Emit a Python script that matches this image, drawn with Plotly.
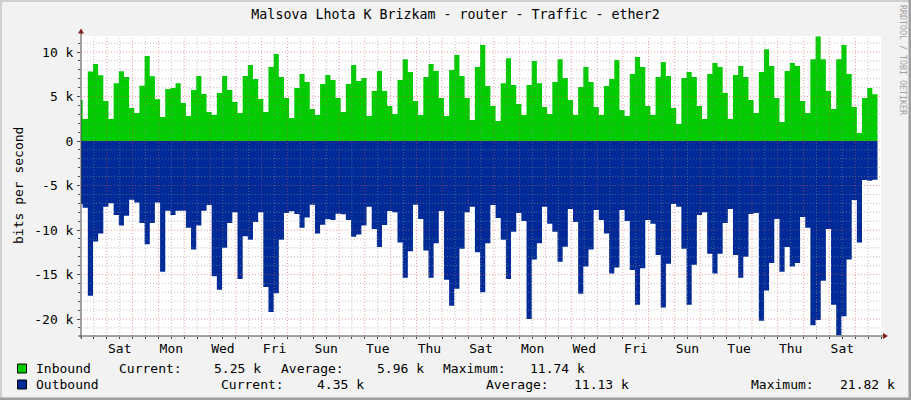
import pandas as pd
import plotly.graph_objects as go

# TRAFFIC VALUES (bits per second, one value per 4.8 h sample)
inbound = [4600, 2470, 7800, 8650, 7400, 4500, 2470, 6500, 7830, 7200,
           3700, 3150, 6200, 9550, 7270, 4700, 2700, 5840, 5950, 6500,
           4270, 2800, 5730, 7300, 5280, 3260, 2920, 5400, 7300, 5730,
           4380, 3150, 7300, 8540, 6970, 4720, 3260, 8310, 9780, 7190,
           4830, 2580, 5960, 7530, 6630, 3600, 2920, 6400, 7420, 6850,
           4830, 3260, 6400, 8540, 6740, 7080, 2800, 5620, 7870, 5620,
           3930, 3030, 6850, 9200, 7750, 4500, 2920, 7190, 8650, 7870,
           4830, 2800, 7980, 9660, 7300, 4830, 2360, 8310, 10800, 6180,
           3930, 2250, 6500, 9300, 6300, 4160, 2920, 6300, 9000, 6500,
           3820, 3030, 6630, 9200, 7080, 4600, 2920, 6070, 8310, 6630,
           3820, 2920, 6180, 6970, 9100, 3480, 2800, 7530, 9440, 8310,
           3930, 2920, 7190, 8880, 7300, 3700, 1910, 7080, 7750, 7190,
           3930, 2470, 7530, 8760, 8310, 5390, 2470, 7420, 8430, 7190,
           4600, 3150, 7750, 10300, 8430, 4830, 2130, 7870, 8760, 8430,
           4500, 3150, 9200, 11740, 9200, 5620, 3600, 9200, 10800, 7530,
           3820, 900, 4830, 5960, 5250]

outbound = [7080, 7500, 17400, 11300, 10400, 7380, 7000, 8300, 9500, 8400,
            6600, 6900, 9200, 11600, 9200, 6900, 14700, 7830, 8300, 7830,
            7830, 9740, 12200, 9500, 7830, 7190, 15200, 16700, 12000, 9200,
            8000, 15500, 10700, 11100, 9100, 8000, 16400, 19200, 17100, 11100,
            8100, 7900, 8200, 9740, 8600, 7150, 10400, 9400, 8800, 8880,
            8160, 8240, 8880, 10750, 10500, 9500, 7400, 9900, 11900, 9440,
            7870, 8000, 11400, 15360, 12400, 7150, 8760, 12300, 15360, 11500,
            7870, 15600, 18500, 16600, 12100, 8000, 7400, 12500, 17000, 11500,
            7200, 8650, 11100, 15500, 10200, 8100, 9000, 20000, 13300, 11500,
            7400, 9300, 10200, 13560, 11870, 7640, 9100, 17150, 14100, 12200,
            7750, 8880, 10400, 14900, 14200, 7750, 9000, 14500, 18400, 14300,
            8880, 9300, 12800, 18700, 13800, 7080, 7400, 12100, 18400, 13900,
            8300, 8000, 12660, 14900, 12660, 9200, 7640, 12800, 15360, 13000,
            8200, 8100, 20200, 16800, 13700, 8760, 14700, 11900, 14100, 13700,
            8540, 9740, 20700, 20100, 15700, 9900, 18400, 21820, 19700, 13300,
            6630, 11400, 4380, 4460, 4350]

# AXIS LABELS
day_labels = ["Sat", "Mon", "Wed", "Fri", "Sun", "Tue", "Thu", "Sat",
              "Mon", "Wed", "Fri", "Sun", "Tue", "Thu", "Sat"]
y_tick_vals = [10000, 5000, 0, -5000, -10000, -15000, -20000]
y_tick_text = ["10 k", "5 k", "0", "-5 k", "-10 k", "-15 k", "-20 k"]

# LEGEND STATS (as printed under the graph)
in_stats = ["5.25 k", "5.96 k", "11.74 k"]
out_stats = ["4.35 k", "11.13 k", "21.82 k"]

# TIME AXIS
graph_start = pd.Timestamp("2019-03-01 00:00")   # a Friday
graph_end = graph_start + pd.Timedelta(days=31)
sample_start = pd.Timestamp("2019-02-28 20:45")
x_edges = pd.date_range(sample_start, periods=len(inbound) + 1, freq="288min")
label_dates = pd.date_range("2019-03-02 12:00", periods=len(day_labels), freq="2D")

FONT = "DejaVu Sans Mono"
GREEN = "#00CC00"
BLUE = "#002A97"
GRID = "rgba(143,143,143,0.55)"
MGRID = "rgba(222,79,79,0.55)"

# pixel -> paper helpers (plot area is 81..881 x 36..336)
def X(p):
    return (p - 81) / 800

def Y(p):
    return (336 - p) / 300

fig = go.Figure()

# step areas, step value repeated at the end
fig.add_trace(go.Scatter(x=x_edges, y=inbound + [inbound[-1]], mode="lines",
                         line=dict(shape="hv", width=0, color=GREEN),
                         fill="tozeroy", fillcolor=GREEN, hoverinfo="skip"))
fig.add_trace(go.Scatter(x=x_edges, y=[-v for v in outbound] + [-outbound[-1]], mode="lines",
                         line=dict(shape="hv", width=0, color=BLUE),
                         fill="tozeroy", fillcolor=BLUE, hoverinfo="skip"))

shapes = []
# grid drawn above the data like rrdtool does
for h in range(12, 31 * 24, 12):
    t = graph_start + pd.Timedelta(hours=h)
    shapes.append(dict(type="line", xref="x", yref="paper", x0=t, x1=t, y0=0, y1=1,
                       layer="above", line=dict(color=MGRID if h % 24 == 0 else GRID,
                                                width=1, dash="1px,2px")))
for v in range(-21000, 12000, 1000):
    shapes.append(dict(type="line", xref="paper", yref="y", x0=0, x1=1, y0=v, y1=v,
                       layer="above", line=dict(color=MGRID if v % 5000 == 0 else GRID,
                                                width=1, dash="1px,2px")))

# axes with arrows
shapes.append(dict(type="line", xref="paper", yref="paper", x0=X(81), x1=X(81), y0=Y(338), y1=Y(32),
                   layer="above", line=dict(color="#4a4a4a", width=1)))
shapes.append(dict(type="line", xref="paper", yref="paper", x0=X(78), x1=X(884), y0=Y(336), y1=Y(336),
                   layer="above", line=dict(color="#4a4a4a", width=1)))
shapes.append(dict(type="path", xref="paper", yref="paper", layer="above",
                   path=f"M {X(78)},{Y(33.5)} L {X(84)},{Y(33.5)} L {X(81)},{Y(28.5)} Z",
                   fillcolor="#801F1F", line=dict(width=0)))
shapes.append(dict(type="path", xref="paper", yref="paper", layer="above",
                   path=f"M {X(883)},{Y(333)} L {X(883)},{Y(339)} L {X(888)},{Y(336)} Z",
                   fillcolor="#801F1F", line=dict(width=0)))

# legend boxes
for top, col in [(364, GREEN), (380, BLUE)]:
    shapes.append(dict(type="rect", xref="paper", yref="paper", x0=X(17.5), x1=X(26.5),
                       y0=Y(top), y1=Y(top + 9), fillcolor=col, line=dict(color="#000000", width=1)))

# frame shading
shapes += [
    dict(type="rect", xref="paper", yref="paper", x0=X(0), x1=X(911), y0=Y(0), y1=Y(2),
         fillcolor="#CFCFCF", line=dict(width=0)),
    dict(type="rect", xref="paper", yref="paper", x0=X(0), x1=X(2), y0=Y(0), y1=Y(400),
         fillcolor="#CFCFCF", line=dict(width=0)),
    dict(type="rect", xref="paper", yref="paper", x0=X(0), x1=X(911), y0=Y(397.5), y1=Y(400),
         fillcolor="#9E9E9E", line=dict(width=0)),
    dict(type="rect", xref="paper", yref="paper", x0=X(908.5), x1=X(911), y0=Y(0), y1=Y(400),
         fillcolor="#9E9E9E", line=dict(width=0)),
]

# legend texts
legend_items = [
    (34.3, 368, "Inbound"), (116.7, 368, "Current:"), (212.3, 368, in_stats[0]),
    (279, 368, "Average:"), (375, 368, in_stats[1]), (440.7, 368, "Maximum:"),
    (528.3, 368, in_stats[2]),
    (34.3, 384.3, "Outbound"), (219.3, 384.3, "Current:"), (315, 384.3, out_stats[0]),
    (484.3, 384.3, "Average:"), (571.7, 384.3, out_stats[1]), (748.7, 384.3, "Maximum:"),
    (837.7, 384.3, out_stats[2]),
]
annotations = [dict(text=t, xref="paper", yref="paper", x=X(px), y=Y(py), xanchor="left",
                    yanchor="middle", showarrow=False, font=dict(family=FONT, size=13, color="#000"))
               for px, py, t in legend_items]
annotations.append(dict(text="bits per second", xref="paper", yref="paper", x=X(18), y=0.5,
                        textangle=-90, showarrow=False, xanchor="center", yanchor="middle",
                        font=dict(family=FONT, size=13, color="#000")))
annotations.append(dict(text="RRDTOOL / TOBI OETIKER", xref="paper", yref="paper", x=X(903),
                        y=Y(60), textangle=90, showarrow=False, xanchor="center", yanchor="middle",
                        font=dict(family=FONT, size=8.3, color="#A0A0A0")))

fig.update_layout(
    width=911, height=400,
    margin=dict(l=81, r=30, t=36, b=64),
    paper_bgcolor="#F2F2F2", plot_bgcolor="#FFFFFF",
    showlegend=False,
    title=dict(text="Malsova Lhota K Brizkam - router - Traffic - ether2",
               x=0.5, xref="container", xanchor="center",
               y=1 - 14 / 400, yref="container", yanchor="middle",
               font=dict(family=FONT, size=13.3, color="#000")),
    shapes=shapes, annotations=annotations,
)
fig.update_xaxes(type="date", range=[graph_start, graph_end], showgrid=False, zeroline=False,
                 showline=False, tickmode="array", tickvals=label_dates, ticktext=day_labels,
                 ticks="", ticklabelstandoff=3,
                 tickfont=dict(family=FONT, size=13, color="#000"),
                 minor=dict(tickmode="linear", tick0=graph_start, dtick=12 * 3600 * 1000,
                            ticks="outside", ticklen=2, tickcolor="#4a4a4a", showgrid=False))
fig.update_yaxes(range=[-21910, 11800], showgrid=False, zeroline=False, showline=False,
                 tickmode="array", tickvals=y_tick_vals, ticktext=y_tick_text,
                 ticks="outside", ticklen=3, tickcolor="#4a4a4a", ticklabelstandoff=1,
                 tickfont=dict(family=FONT, size=13, color="#000"),
                 minor=dict(tickmode="linear", tick0=0, dtick=1000, ticks="outside",
                            ticklen=2, tickcolor="#4a4a4a", showgrid=False))

# drop the default page margin so the 911x400 figure fills the window
fig.write_html("out.html", config={"displayModeBar": False},
               post_script="document.body.style.margin='0';document.body.style.padding='0';")
